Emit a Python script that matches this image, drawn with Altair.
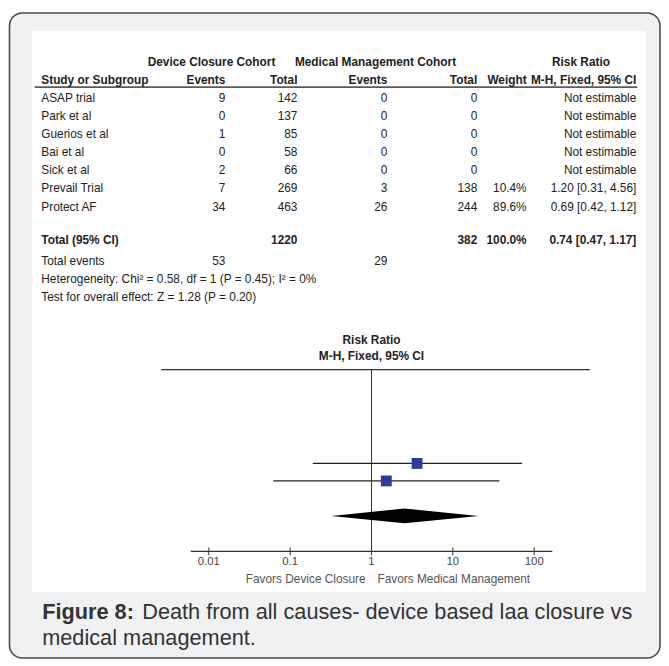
import altair as alt
import pandas as pd

# ---------------- data ----------------
studies = ["ASAP trial", "Park et al", "Guerios et al", "Bai et al", "Sick et al",
           "Prevail Trial", "Protect AF"]
dev_events = ["9", "0", "1", "0", "2", "7", "34"]
dev_total = ["142", "137", "85", "58", "66", "269", "463"]
med_events = ["0", "0", "0", "0", "0", "3", "26"]
med_total = ["0", "0", "0", "0", "0", "138", "244"]
weights = ["", "", "", "", "", "10.4%", "89.6%"]
rr_text = ["Not estimable"] * 5 + ["1.20 [0.31, 4.56]", "0.69 [0.42, 1.12]"]

group_headers = ["Device Closure Cohort", "Medical Management Cohort", "Risk Ratio"]
col_headers = ["Study or Subgroup", "Events", "Total", "Events", "Total", "Weight",
               "M-H, Fixed, 95% CI"]
total_row = ["Total (95% CI)", "", "1220", "", "382", "100.0%", "0.74 [0.47, 1.17]"]
events_row = ["Total events", "53", "", "29", "", "", ""]
notes = ["Heterogeneity: Chi\u00b2 = 0.58, df = 1 (P = 0.45); I\u00b2 = 0%",
         "Test for overall effect: Z = 1.28 (P = 0.20)"]

# forest plot, values as drawn in the picture
plot_rows = [5, 6]            # Prevail Trial, Protect AF
plot_est = [3.63, 1.52]
plot_lo = [0.19, 0.062]
plot_hi = [71.0, 37.3]
pooled_row = 8
pooled = [0.32, 2.54, 20.7]   # lower, estimate, upper
tick_values = [0.01, 0.1, 1, 10, 100]
axis_extent = [0.006, 167]
forest_title = ["Risk Ratio", "M-H, Fixed, 95% CI"]
favors = ["Favors Device Closure", "Favors Medical Management"]
caption_bold = "Figure 8:"
caption_line1 = "Death from all causes- device based laa closure vs"
caption_line2 = "medical management."

# ---------------- build tables ----------------
FONT = "Liberation Sans"
INK = "#222222"

cells = []
def add_row(row, values, style):
    for c, t in enumerate(values):
        if t != "":
            cells.append({"row": row, "col": c, "text": t, "style": style})

add_row(-1, col_headers, "bold")
for i in range(len(studies)):
    add_row(i, [studies[i], dev_events[i], dev_total[i], med_events[i],
                med_total[i], weights[i], rr_text[i]], "body")
add_row(8, total_row, "total")
add_row(9, events_row, "body")
for k, n in enumerate(notes):
    add_row(10 + k, [n], "body")
cells_df = pd.DataFrame(cells)

heads_df = pd.DataFrame({"row": [-2] * 3, "text": group_headers, "k": [0, 1, 2]})

forest_df = pd.DataFrame({"row": plot_rows, "est": plot_est, "lo": plot_lo, "hi": plot_hi})
h = 0.42
diamond_df = pd.DataFrame({
    "x": pooled,
    "y": [pooled_row, pooled_row - h, pooled_row],
    "y2": [pooled_row, pooled_row + h, pooled_row],
})
ticks_df = pd.DataFrame({"v": tick_values, "label": [f"{v:g}" for v in tick_values]})
extent_df = pd.DataFrame({"a": [axis_extent[0]], "b": [axis_extent[1]]})
one = pd.DataFrame({"a": [0]})

# ---------------- scales ----------------
ty = alt.Scale(domain=[-2, 11], range=[50.3, 288.7], nice=False, zero=False)
fy = alt.Scale(domain=[0, 8], range=[368.5, 510.1], nice=False, zero=False)
fx = alt.Scale(type="log", domain=axis_extent, range=[185, 551], nice=False)

layers = []

# card and panel (decoration)
layers.append(alt.Chart(one).mark_rect(fill="#f0f1f3", stroke="#4a4a4a", strokeWidth=1.6,
                                        cornerRadius=13).encode(
    x=alt.value(1.5), x2=alt.value(660), y=alt.value(1), y2=alt.value(654)))
layers.append(alt.Chart(one).mark_rect(fill="white").encode(
    x=alt.value(24), x2=alt.value(646), y=alt.value(19), y2=alt.value(587)))
# header rule of the table
layers.append(alt.Chart(one).mark_rule(color="#5a5a5a", strokeWidth=1.8).encode(
    x=alt.value(27), x2=alt.value(637), y=alt.value(76)))

# table text
col_x = [33.7, 220, 293, 384, 475, 525, 636]
col_align = ["left", "right", "right", "right", "right", "right", "right"]
for c in range(7):
    for style in ["bold", "body", "total"]:
        sub = cells_df[(cells_df.col == c) & (cells_df["style"] == style)]
        if len(sub) == 0:
            continue
        layers.append(
            alt.Chart(cells_df).transform_filter(
                (alt.datum.col == c) & (alt.datum.style == style)
            ).mark_text(align=col_align[c], baseline="middle", font=FONT, fontSize=12,
                        fontWeight="bold" if style != "body" else "normal",
                        color=INK, dy=-3 if style == "total" else 0).encode(
                x=alt.value(col_x[c]),
                y=alt.Y("row:Q", scale=ty, axis=None),
                text="text:N"))

head_x = [206, 372, 580]
for k in range(3):
    layers.append(
        alt.Chart(heads_df).transform_filter(alt.datum.k == k).mark_text(
            align="center", baseline="middle", font=FONT, fontSize=12, fontWeight="bold",
            color=INK).encode(
            x=alt.value(head_x[k]), y=alt.Y("row:Q", scale=ty, axis=None), text="text:N"))

# ---------------- forest plot ----------------
layers.append(alt.Chart(one).mark_rule(color="#333333", strokeWidth=1.2).encode(
    x=alt.value(155), x2=alt.value(589), y=alt.value(362)))
title_df = pd.DataFrame({"t": forest_title, "i": [0, 1], "one": [1, 1]})
for i, yy in enumerate([332, 348]):
    layers.append(alt.Chart(title_df).transform_filter(alt.datum.i == i).mark_text(
        font=FONT, fontSize=12, fontWeight="bold", color=INK, baseline="middle",
        align="center").encode(x=alt.X("one:Q", scale=fx, axis=None),
                               y=alt.value(yy), text="t:N"))

# null line
null_df = pd.DataFrame({"v": [1]})
layers.append(alt.Chart(null_df).mark_rule(color="#333333", strokeWidth=1).encode(
    x=alt.X("v:Q", scale=fx, axis=None), y=alt.value(362), y2=alt.value(546)))
# x axis line
layers.append(alt.Chart(extent_df).mark_rule(color="#333333", strokeWidth=1.3).encode(
    x=alt.X("a:Q", scale=fx, axis=None), x2="b:Q", y=alt.value(546)))
# ticks and labels
layers.append(alt.Chart(ticks_df).mark_rule(color="#333333", strokeWidth=1).encode(
    x=alt.X("v:Q", scale=fx, axis=None), y=alt.value(542), y2=alt.value(550)))
layers.append(alt.Chart(ticks_df).mark_text(font=FONT, fontSize=11.5, color="#444444",
                                            baseline="middle", align="center").encode(
    x=alt.X("v:Q", scale=fx, axis=None), y=alt.value(557), text="label:N"))

# confidence intervals
layers.append(alt.Chart(forest_df).mark_rule(color="#222222", strokeWidth=1.2).encode(
    x=alt.X("lo:Q", scale=fx, axis=None), x2="hi:Q",
    y=alt.Y("row:Q", scale=fy, axis=None)))
# study squares
layers.append(alt.Chart(forest_df).mark_square(color="#2c3c9c", opacity=1, size=121).encode(
    x=alt.X("est:Q", scale=fx, axis=None), y=alt.Y("row:Q", scale=fy, axis=None)))
# pooled diamond
layers.append(alt.Chart(diamond_df).mark_area(color="black", orient="vertical").encode(
    x=alt.X("x:Q", scale=fx, axis=None), y=alt.Y("y:Q", scale=fy, axis=None), y2="y2:Q"))

fav_df = pd.DataFrame({"t": favors, "i": [0, 1], "one": [1, 1]})
layers.append(alt.Chart(fav_df).transform_filter(alt.datum.i == 0).mark_text(
    font=FONT, fontSize=12, color="#555555", align="right", baseline="middle", dx=-6).encode(
    x=alt.X("one:Q", scale=fx, axis=None), y=alt.value(574), text="t:N"))
layers.append(alt.Chart(fav_df).transform_filter(alt.datum.i == 1).mark_text(
    font=FONT, fontSize=12, color="#555555", align="left", baseline="middle", dx=6).encode(
    x=alt.X("one:Q", scale=fx, axis=None), y=alt.value(574), text="t:N"))

# ---------------- caption ----------------
cap_df = pd.DataFrame({"t": [caption_bold, caption_line1, caption_line2], "i": [0, 1, 2]})
layers.append(alt.Chart(cap_df).transform_filter(alt.datum.i == 0).mark_text(
    font=FONT, fontSize=22, fontWeight="bold", color="#333333", align="left",
    baseline="middle").encode(x=alt.value(34.6), y=alt.value(607), text="t:N"))
layers.append(alt.Chart(cap_df).transform_filter(alt.datum.i == 1).mark_text(
    font=FONT, fontSize=22, color="#333333", align="right",
    baseline="middle").encode(x=alt.value(632), y=alt.value(607), text="t:N"))
layers.append(alt.Chart(cap_df).transform_filter(alt.datum.i == 2).mark_text(
    font=FONT, fontSize=22, color="#333333", align="left",
    baseline="middle").encode(x=alt.value(34.6), y=alt.value(634), text="t:N"))

chart = alt.layer(*layers).resolve_scale(y="independent").properties(
    width=661, height=658, padding=0,
    autosize=alt.AutoSizeParams(type="none"),
    background="white",
).configure_view(stroke=None)

chart.save("out.html", embed_options={"renderer": "svg", "actions": False})
